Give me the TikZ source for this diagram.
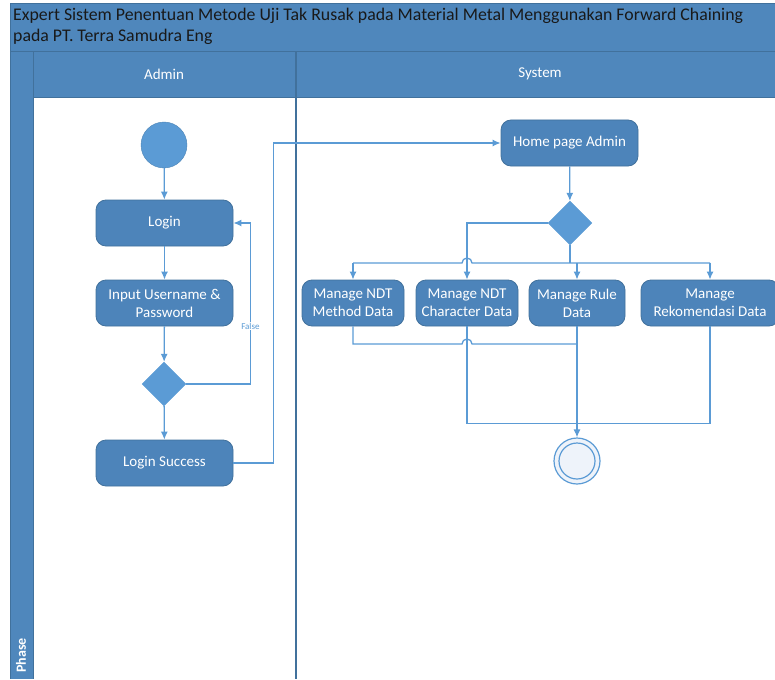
\documentclass[tikz,border=0pt]{standalone}
\usepackage{fontspec}
\setmainfont{Carlito}
\usetikzlibrary{arrows.meta, shapes.geometric}

\definecolor{headblue}{HTML}{4F87BC}
\definecolor{laneline}{HTML}{41719C}
\definecolor{boxfill}{HTML}{4D84BA}
\definecolor{boxline}{HTML}{41719C}
\definecolor{flowblue}{HTML}{5B9BD5}
\definecolor{endfill}{HTML}{EEF3FA}

\begin{document}
\begin{tikzpicture}[x=1pt, y=-1pt,
    actbox/.style={draw=boxline, fill=boxfill, rounded corners=10pt, text=white, align=center,
        inner sep=2pt, minimum height=46pt, line width=0.8pt, font=\fontsize{15}{18}\selectfont},
    decide/.style={diamond, draw=flowblue, fill=flowblue, inner sep=0pt, minimum width=44pt, minimum height=44pt},
    startdot/.style={circle, draw=flowblue!85!black, fill=flowblue, minimum size=46pt, inner sep=0pt},
    enddot/.style={circle, draw=flowblue, fill=endfill, line width=1.2pt, minimum size=46pt, inner sep=0pt},
    endcore/.style={circle, draw=flowblue, line width=1.2pt, minimum size=36pt, inner sep=0pt},
    flow/.style={draw=flowblue, line width=1.3pt, -{Latex[length=8pt,width=7pt]}},
    link/.style={draw=flowblue, line width=1.3pt},
    falsetag/.style={fill=white, text=flowblue, inner sep=1pt, font=\fontsize{9}{10}\selectfont},
    lanehead/.style={text=white, font=\fontsize{15}{18}\selectfont}]
\useasboundingbox (0,0) rectangle (775,679);

% swimlane frame
\fill[headblue] (10,4) rectangle (785,52);
\fill[headblue] (10,52) rectangle (33,679);
\fill[headblue] (33,52) rectangle (785,98);
\draw[laneline, line width=1pt] (10,4) -- (785,4);
\draw[laneline, line width=1pt] (10,4) -- (10,679);
\draw[laneline, line width=1pt] (10,52) -- (785,52);
\draw[laneline, line width=1pt] (33,52) -- (33,679);
\draw[laneline, line width=1pt] (33,98) -- (785,98);
\draw[laneline, line width=1.3pt] (296,52) -- (296,679);

\node[anchor=north west, align=left, text=black!90, inner sep=0pt, font=\fontsize{17.8}{21}\selectfont] (title) at (13,8)
    {Expert Sistem Penentuan Metode Uji Tak Rusak pada Material Metal Menggunakan Forward Chaining\\pada PT. Terra Samudra Eng};
\node[lanehead] (admin) at (164,74) {Admin};
\node[lanehead] (system) at (540,74) {System};
\node[lanehead, rotate=90, anchor=west, font=\bfseries\fontsize{14}{16}\selectfont] (phase) at (21,676) {Phase};

% Admin lane
\node[startdot] (start) at (164,145) {};
\node[actbox, minimum width=137pt] (login) at (164.5,223) {Login};
\node[actbox, minimum width=137pt] (input) at (164.5,303) {Input Username \&\\Password};
\node[decide] (check) at (164,384) {};
\node[actbox, minimum width=137pt] (success) at (164.5,463) {Login Success};

% System lane
\node[actbox, minimum width=137pt] (home) at (569.5,143) {Home page Admin};
\node[decide] (menu) at (570,223) {};
\node[actbox, minimum width=102pt] (ndtmethod) at (353,303) {Manage NDT\\Method Data};
\node[actbox, minimum width=102pt] (ndtchar) at (467,303) {Manage NDT\\Character Data};
\node[actbox, minimum width=96pt] (rule) at (577,303) {Manage Rule\\Data};
\node[actbox, minimum width=138pt] (rekom) at (710,303) {Manage\\Rekomendasi Data};
\node[enddot] (finish) at (577,461) {};
\node[endcore] (finishcore) at (finish) {};

\coordinate (fork) at (570,263);
\coordinate (join) at (577,344);

\draw[flow] (start) -- (login);
\draw[flow] (login) -- (input);
\draw[flow] (input) -- (check);
\draw[flow] (check) -- (success);
\draw[flow] (check.east) -| ([xshift=17pt]login.east) node[pos=0.68, falsetag] {False} -- (login.east);
\draw[flow] (success.east) -- ++(40,0) |- (home.west);

\draw[flow] (home) -- (menu);
\draw[flow] (menu.west) -| (ndtchar.north);
\draw[link] (menu.south) -- (fork);
\draw[link] (fork -| ndtmethod.north) -- (462,263) arc (180:360:5) -- (fork -| rekom.north);
\draw[flow] (fork -| ndtmethod.north) -- (ndtmethod.north);
\draw[flow] (fork -| rule.north) -- (rule.north);
\draw[flow] (fork -| rekom.north) -- (rekom.north);

\draw[link] (ndtmethod.south) |- (462,344) arc (180:360:5) -- (join);
\draw[link] (ndtchar.south) -- ++(0,97) -| (rekom.south);
\draw[flow] (rule.south) -- (finish);
\end{tikzpicture}
\end{document}
